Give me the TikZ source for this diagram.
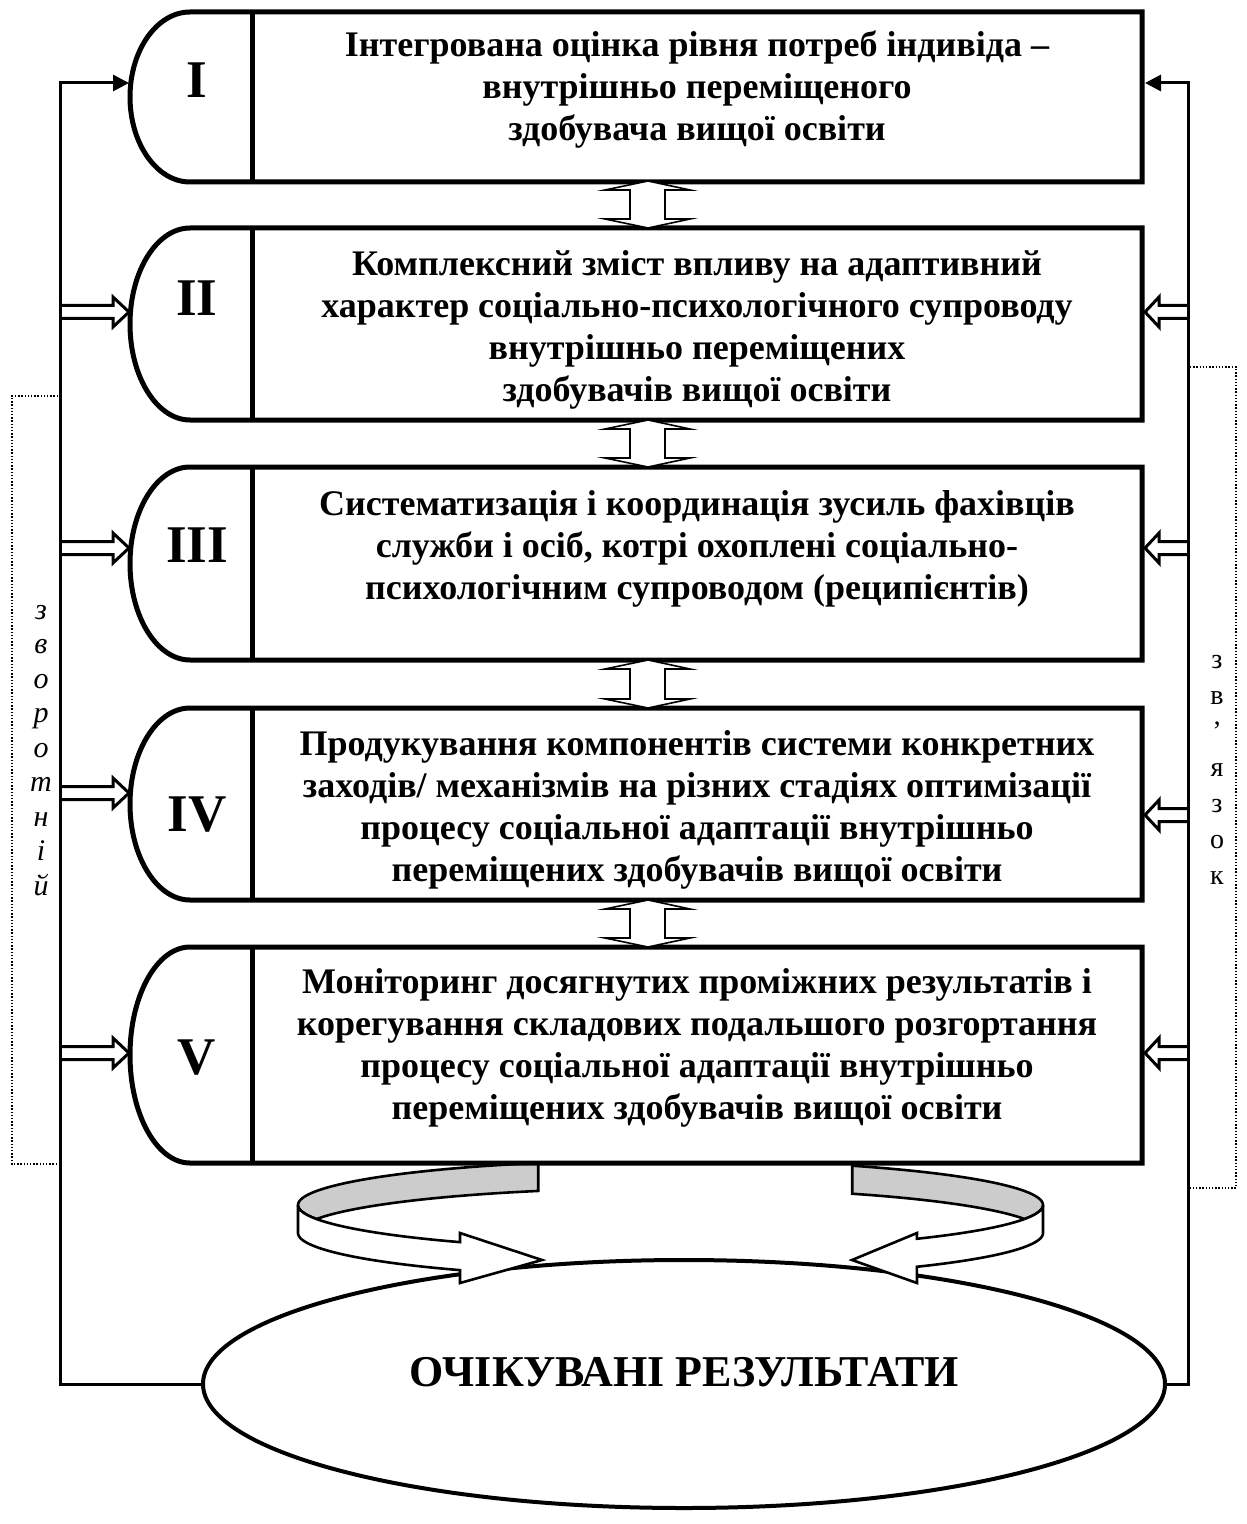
\documentclass[tikz,border=0pt]{standalone}
\usepackage{fontspec}
\setmainfont{Liberation Serif}
\usetikzlibrary{shapes.geometric, arrows.meta}

\newcommand\stagebox[2]{%
  \draw[frame] (1142,#1) -- (190,#1) .. controls (157,#1) and (130,{#1+0.4477*(#2-#1)/2}) .. (130,{(#1+#2)/2})
    .. controls (130,{#2-0.4477*(#2-#1)/2}) and (157,#2) .. (190,#2) -- (1142,#2) -- cycle;
  \draw[frame] (252,#1) -- (252,#2);}
\newcommand\vdbl[2]{%
  \draw[vd] (648,#1) -- (690,{#1+9}) -- (665,{#1+9}) -- (665,{#2-9}) -- (690,{#2-9}) -- (648,#2)
    -- (605,{#2-9}) -- (630,{#2-9}) -- (630,{#1+9}) -- (605,{#1+9}) -- cycle;}
\newcommand\ldbl[1]{%
  \draw[dbl] (60,{#1-6.5}) -- (113,{#1-6.5}) -- (113,{#1-15}) -- (129,#1) -- (113,{#1+15}) -- (113,{#1+6.5}) -- (60,{#1+6.5});}
\newcommand\rdbl[1]{%
  \draw[dbl] (1188,{#1-6.5}) -- (1159,{#1-6.5}) -- (1159,{#1-15}) -- (1145,#1) -- (1159,{#1+15}) -- (1159,{#1+6.5}) -- (1188,{#1+6.5});}

\begin{document}
\begin{tikzpicture}[x=0.5pt, y=-0.5pt,
  frame/.style={line width=2.5pt, line join=miter},
  fb/.style={line width=1.5pt},
  dbl/.style={line width=1.5pt, line join=miter},
  vd/.style={line width=0.8pt, fill=white, line join=miter},
  band/.style={line width=1.3pt, line join=miter},
  dots/.style={line width=0.7pt, dash pattern=on 0.7pt off 0.9pt},
  boxtext/.style={align=center, inner sep=0pt, font=\bfseries\fontsize{18}{21}\selectfont},
  numeral/.style={inner sep=0pt, font=\bfseries\fontsize{26.5}{30}\selectfont},
  restext/.style={inner sep=0pt, font=\bfseries\fontsize{22}{26}\selectfont},
  lvert/.style={inner sep=0pt, anchor=base, font=\itshape\fontsize{15}{18}\selectfont},
  rvert/.style={inner sep=0pt, anchor=base, font=\fontsize{14}{17}\selectfont}
]
\useasboundingbox (0,0) rectangle (1246,1524);

% result ellipse
\node[draw, ellipse, line width=2pt, minimum width=481pt, minimum height=124pt, inner sep=0pt] (res) at (684,1384) {};
\node[restext] (restxt) at (684,1372) {ОЧІКУВАНІ РЕЗУЛЬТАТИ};

% circular band arrows
\filldraw[band, fill=gray!40]
  plot[variable=\t, domain=249.2:161.9, samples=50] ({670.5+372.5*cos(\t)},{1205+45*sin(\t)})
  -- plot[variable=\t, domain=198.1:249.2, samples=40] ({670.5+372.5*cos(\t)},{1233+45*sin(\t)}) -- cycle;
\filldraw[band, fill=white]
  plot[variable=\t, domain=180:124.4, samples=50] ({670.5+372.5*cos(\t)},{1205+45*sin(\t)})
  -- (460,1233) -- (542,1260) -- (460,1283)
  -- plot[variable=\t, domain=124.4:180, samples=50] ({670.5+372.5*cos(\t)},{1233+45*sin(\t)}) -- cycle;
\filldraw[band, fill=gray!40]
  plot[variable=\t, domain=299.2:378.1, samples=50] ({670.5+372.5*cos(\t)},{1205+45*sin(\t)})
  -- plot[variable=\t, domain=341.9:299.2, samples=40] ({670.5+372.5*cos(\t)},{1233+45*sin(\t)}) -- cycle;
\filldraw[band, fill=white]
  plot[variable=\t, domain=0:48.6, samples=50] ({670.5+372.5*cos(\t)},{1205+45*sin(\t)})
  -- (917,1233) -- (852,1260) -- (917,1283)
  -- plot[variable=\t, domain=48.6:0, samples=50] ({670.5+372.5*cos(\t)},{1233+45*sin(\t)}) -- cycle;

% stage boxes
\stagebox{12}{182}
\stagebox{228}{420}
\stagebox{467}{660}
\stagebox{708}{900}
\stagebox{947}{1163}

\node[numeral] (nI) at (197,80) {I};
\node[numeral] (nII) at (197,298) {II};
\node[numeral] (nIII) at (197,545) {III};
\node[numeral] (nIV) at (197,815) {IV};
\node[numeral] (nV) at (197,1058) {V};

\node[boxtext] (tI) at (697,90) {Інтегрована оцінка рівня потреб індивіда –\\внутрішньо переміщеного\\здобувача вищої освіти};
\node[boxtext] (tII) at (697,330) {Комплексний зміст впливу на адаптивний\\характер соціально-психологічного супроводу\\внутрішньо переміщених\\здобувачів вищої освіти};
\node[boxtext] (tIII) at (697,549) {Систематизація і координація зусиль фахівців\\служби і осіб, котрі охоплені соціально-\\психологічним супроводом (реципієнтів)};
\node[boxtext] (tIV) at (697,810) {Продукування компонентів системи конкретних\\заходів/ механізмів на різних стадіях оптимізації\\процесу соціальної адаптації внутрішньо\\переміщених здобувачів вищої освіти};
\node[boxtext] (tV) at (697,1048) {Моніторинг досягнутих проміжних результатів і\\корегування складових подальшого розгортання\\процесу соціальної адаптації внутрішньо\\переміщених здобувачів вищої освіти};

% vertical double arrows between stages
\vdbl{181}{228}
\vdbl{420}{467}
\vdbl{660}{708}
\vdbl{900}{947}

% feedback loop
\coordinate (fbL) at (60,83);
\coordinate (dI) at (129,83);
\coordinate (fbR) at (1188,83);
\coordinate (rI) at (1145,83);
\draw[fb, -{Triangle[length=8pt, width=8pt]}] (res.west) -| (fbL) -- (dI);
\draw[fb, -{Triangle[length=8pt, width=8pt]}] (res.east) -| (fbR) -- (rI);

\ldbl{312}
\ldbl{548}
\ldbl{793}
\ldbl{1053}
\rdbl{312}
\rdbl{548}
\rdbl{815}
\rdbl{1053}

% dotted brackets
\draw[dots] (58,396) -- (12,396) -- (12,1164) -- (58,1164);
\draw[dots] (1190,367) -- (1236,367) -- (1236,1188) -- (1190,1188);

% vertical labels
\foreach \ch [count=\i] in {з,в,о,р,о,т,н,і,й}
  \node[lvert] (zl\i) at (41,{619+34.5*(\i-1)}) {\ch};
\foreach \ch [count=\i] in {з,в,’,я,з,о,к}
  \node[rvert] (zr\i) at (1217,{668+36*(\i-1)}) {\ch};
\end{tikzpicture}
\end{document}
